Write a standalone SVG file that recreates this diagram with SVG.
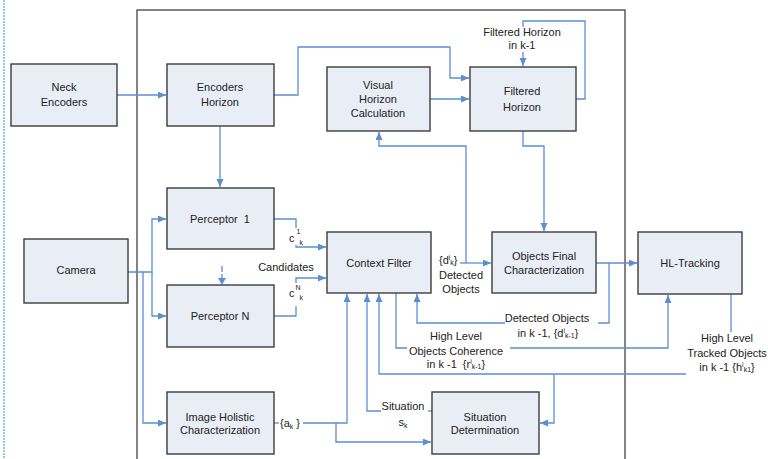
<svg xmlns="http://www.w3.org/2000/svg" width="768" height="459" viewBox="0 0 768 459">
<defs>
<marker id="ah" markerWidth="9" markerHeight="8" refX="8" refY="3.5" orient="auto" markerUnits="userSpaceOnUse">
<path d="M0,0 L8,3.5 L0,7 z" fill="#5b8fd2"/>
</marker>
<style>
.box{fill:#e9eef6;stroke:#3c3c3c;stroke-width:1.4}
.t{font-family:"Liberation Sans",Arial,sans-serif;font-size:11px;fill:#222;text-anchor:middle}
.tl{font-family:"Liberation Sans",Arial,sans-serif;font-size:11px;fill:#222}
.s{font-size:7px}
.c{fill:none;stroke:#5b8fd2;stroke-width:1.3}
.a{marker-end:url(#ah)}
</style>
</defs>
<rect width="768" height="459" fill="#fff"/>
<line x1="4" y1="0" x2="4" y2="459" stroke="#8ccfe6" stroke-width="2" stroke-dasharray="2,1"/>
<rect x="137" y="10" width="488" height="470" fill="none" stroke="#333" stroke-width="1.2"/>

<g id="connectors">
<path class="c a" d="M117,95 H166"/>
<path class="c a" d="M274,95 H298 V47 H450 V78 H469"/>
<path class="c a" d="M430,99 H469"/>
<path class="c" d="M576,99 H585 V21 H523 V27"/>
<path class="c a" d="M523,52 V66"/>
<path class="c a" d="M523,131 V146 H544 V231"/>
<path class="c a" d="M460,263 H491"/>
<path class="c a" d="M466,263 V146 H379 V132"/>
<path class="c a" d="M220,126 V187"/>
<path class="c a" d="M128,272 H152 V219 H166"/>
<path class="c a" d="M152,272 V316 H166"/>
<path class="c a" d="M143,272 V423 H166"/>
<path class="c" d="M274,219 H296 V228"/>
<path class="c a" d="M296,245 V247 H326"/>
<path class="c" d="M274,316 H296 V306"/>
<path class="c a" d="M296,283 V278 H326"/>
<path class="c" d="M222,266 V272 M222,274 V279" stroke-width="2.2"/>
<path d="M218,278 L226,278 L222,285 z" fill="#5b8fd2"/>
<path class="c" d="M274,423 H279"/>
<path class="c a" d="M303,423 H347 V294"/>
<path class="c a" d="M336,423 V442 H431"/>
<path class="c" d="M432,411 H428"/>
<path class="c a" d="M381,411 H367 V294"/>
<path class="c" d="M731,294 V332"/>
<path class="c a" d="M686,374 H379 V294"/>
<path class="c a" d="M554,374 V423 H540"/>
<path class="c a" d="M596,263 H637"/>
<path class="c" d="M609,263 V323 H598"/>
<path class="c a" d="M505,323 H417 V294"/>
<path class="c" d="M396,293 V348 H407"/>
<path class="c a" d="M510,348 H668 V295"/>
</g>

<g id="neck-encoders"><rect class="box" x="11" y="64" width="106" height="62"/><text class="t" x="64" y="91">Neck</text><text class="t" x="64" y="106">Encoders</text></g>
<g id="encoders-horizon"><rect class="box" x="167" y="64" width="107" height="62"/><text class="t" x="220" y="91">Encoders</text><text class="t" x="220" y="106">Horizon</text></g>
<g id="visual-horizon"><rect class="box" x="327" y="67" width="103" height="64"/><text class="t" x="378" y="89">Visual</text><text class="t" x="378" y="103">Horizon</text><text class="t" x="378" y="117">Calculation</text></g>
<g id="filtered-horizon"><rect class="box" x="470" y="67" width="106" height="64"/><text class="t" x="522" y="95">Filtered</text><text class="t" x="522" y="111">Horizon</text></g>
<g id="perceptor-1"><rect class="box" x="167" y="188" width="107" height="61"/><text class="t" x="220" y="223" xml:space="preserve">Perceptor  1</text></g>
<g id="camera"><rect class="box" x="24" y="239" width="104" height="64"/><text class="t" x="76" y="274">Camera</text></g>
<g id="context-filter"><rect class="box" x="327" y="232" width="104" height="61"/><text class="t" x="379" y="267">Context Filter</text></g>
<g id="objects-final"><rect class="box" x="492" y="232" width="104" height="61"/><text class="t" x="544" y="260">Objects Final</text><text class="t" x="544" y="274">Characterization</text></g>
<g id="hl-tracking"><rect class="box" x="638" y="232" width="104" height="62"/><text class="t" x="690" y="267">HL-Tracking</text></g>
<g id="perceptor-n"><rect class="box" x="167" y="285" width="107" height="62"/><text class="t" x="220" y="320">Perceptor N</text></g>
<g id="image-holistic"><rect class="box" x="167" y="392" width="107" height="62"/><text class="t" x="220" y="421">Image Holistic</text><text class="t" x="220" y="434">Characterization</text></g>
<g id="situation-determination"><rect class="box" x="432" y="392" width="107" height="62"/><text class="t" x="485" y="421">Situation</text><text class="t" x="485" y="434">Determination</text></g>

<g id="labels">
<text class="t" x="522" y="36">Filtered Horizon</text>
<text class="t" x="522" y="49">in k-1</text>
<text class="tl" x="289" y="242">c<tspan class="s" dx="2" dy="-8">1</tspan><tspan class="s" dx="-1" dy="11">k</tspan></text>
<text class="t" x="286" y="271">Candidates</text>
<text class="tl" x="289" y="297">c<tspan class="s" dx="1" dy="-7">N</tspan><tspan class="s" dx="-1" dy="10">k</tspan></text>
<text class="tl" x="439" y="264">{d<tspan class="s" dy="-4">i</tspan><tspan class="s" dy="5">k</tspan><tspan dy="-1">}</tspan></text>
<text class="t" x="461" y="279">Detected</text>
<text class="t" x="461" y="293">Objects</text>
<text class="t" x="547" y="322">Detected Objects</text>
<text class="t" x="548" y="337">in k -1, {d<tspan class="s" dy="-4">i</tspan><tspan class="s" dy="5">k-1</tspan><tspan dy="-1">}</tspan></text>
<text class="t" x="456" y="340">High Level</text>
<text class="t" x="456" y="355">Objects Coherence</text>
<text class="t" x="456" y="368" xml:space="preserve">in k -1  {r<tspan class="s" dy="-4">i</tspan><tspan class="s" dy="5">k-1</tspan><tspan dy="-1">}</tspan></text>
<text class="t" x="727" y="342">High Level</text>
<text class="t" x="727" y="357">Tracked Objects</text>
<text class="t" x="727" y="371">in k -1 {h<tspan class="s" dy="-4">i</tspan><tspan class="s" dy="5">k1</tspan><tspan dy="-1">}</tspan></text>
<text class="tl" x="280" y="427">{a<tspan class="s" dy="2">k</tspan><tspan dy="-2"> }</tspan></text>
<text class="t" x="403" y="410">Situation</text>
<text class="t" x="403" y="426">s<tspan class="s" dy="2">k</tspan></text>
</g>
</svg>
